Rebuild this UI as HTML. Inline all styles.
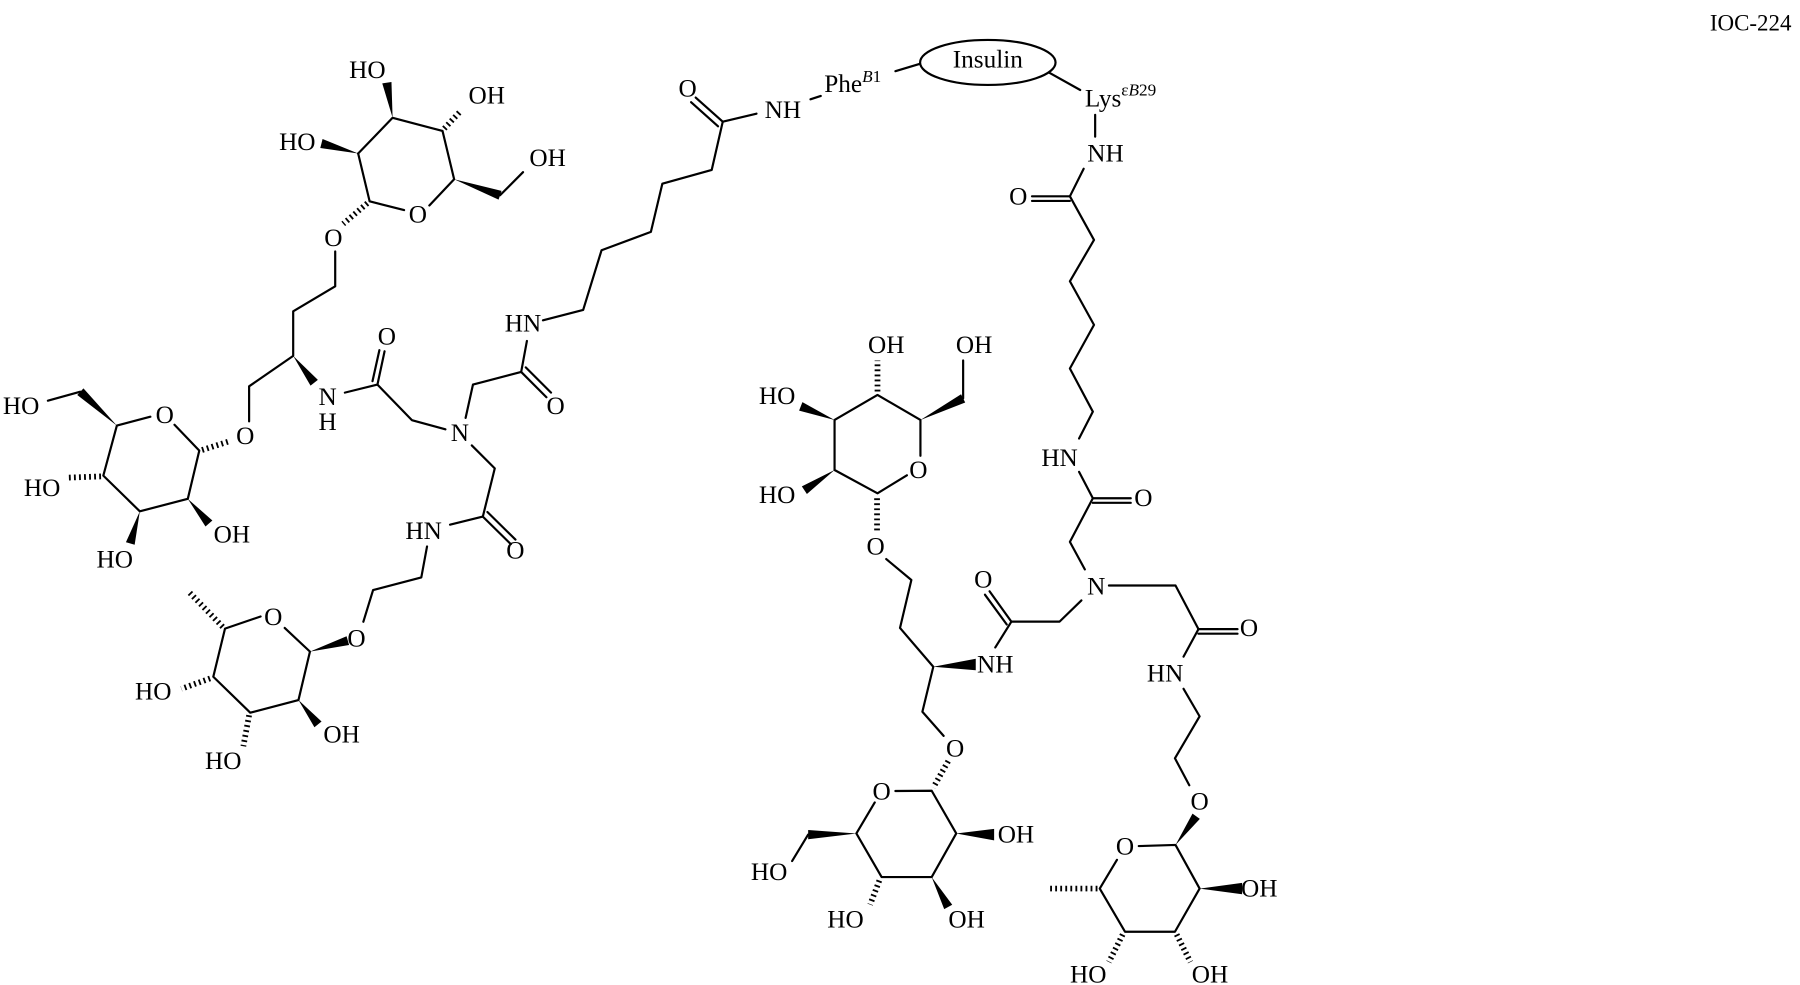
<!DOCTYPE html>
<html><head><meta charset="utf-8"><style>
html,body{margin:0;padding:0;background:#fff;}
svg{display:block;}
text{font-family:"Liberation Serif",serif;font-size:22px;fill:#000;text-anchor:middle;dominant-baseline:central;}
.l{stroke:#000;stroke-width:1.9;fill:none;stroke-linecap:round;stroke-linejoin:round;}
.h{stroke:#000;stroke-width:5;fill:none;stroke-dasharray:1.6,2.8;}
.w{fill:#000;stroke:none;}
</style></head><body>
<svg width="1800" height="985" viewBox="0 0 1568 858" preserveAspectRatio="none" xmlns="http://www.w3.org/2000/svg">
<text x="1525" y="20" style="font-size:20px">IOC-224</text>

<!-- top-left sugar -->
<polyline class="l" points="312,133.7 342,102.6 385.5,114.1 395.6,156.1 374,179"/>
<polyline class="l" points="352,183 322,175.4 312,133.7"/>
<polygon class="w" points="342,102.6 341,71.4 333,72.6"/>
<polygon class="w" points="312,133.7 281,121.1 279,128.9"/>
<polygon class="w" points="395.6,156.1 434.3,173.9 436.9,166.3"/>
<line class="l" x1="435.6" y1="170.1" x2="455.6" y2="150"/>
<line class="h" x1="387" y1="112" x2="401" y2="97"/>
<line class="h" x1="320" y1="177" x2="299" y2="195"/>
<text x="320" y="61">HO</text><text x="424" y="83">OH</text><text x="259" y="123.5">HO</text><text x="477" y="137.5">OH</text>
<text x="364" y="187">O</text><text x="290.4" y="207.4">O</text>

<!-- left chain -->
<polyline class="l" points="292,219 292,249.4 255.4,271.2 255.4,310 217,336.5 217,367"/>
<polygon class="w" points="255.4,310 270.5,335.9 276.9,330.9"/>
<text x="213.6" y="380">O</text>
<text x="285.4" y="345.8">N</text><text x="285.4" y="367.6">H</text>
<text x="337" y="293">O</text>
<line class="l" x1="300.4" y1="342" x2="328.8" y2="335"/>
<line class="l" x1="328.8" y1="335" x2="335" y2="306"/>
<line class="l" x1="324.5" y1="332" x2="330.5" y2="305"/>
<polyline class="l" points="328.8,335 358.8,366 388,374"/>
<text x="400.6" y="377">N</text>
<polyline class="l" points="405.6,364 412,335 454,324"/>
<line class="l" x1="454" y1="324" x2="476" y2="346"/>
<line class="l" x1="458" y1="320" x2="480" y2="342"/>
<text x="484" y="353.6">O</text>
<line class="l" x1="454" y1="324" x2="459" y2="297"/>
<text x="455.6" y="282">HN</text>
<polyline class="l" points="473,279 508,270 524,218 567,202 577,160 620,148 629.6,106"/>
<line class="l" x1="629.6" y1="106" x2="606" y2="85"/>
<line class="l" x1="625.5" y1="110" x2="602" y2="89"/>
<text x="599" y="77">O</text>
<line class="l" x1="629.6" y1="106" x2="659" y2="99"/>
<text x="682" y="96">NH</text>
<line class="l" x1="706" y1="86.5" x2="715" y2="83.6"/>
<text x="718" y="73" style="text-anchor:start">Phe<tspan dy="-7" style="font-size:15px"><tspan font-style="italic">B</tspan>1</tspan></text>
<line class="l" x1="780" y1="62" x2="801" y2="55.7"/>
<ellipse cx="860.5" cy="54.4" rx="59" ry="19.6" class="l"/>
<text x="860.5" y="52">Insulin</text>
<line class="l" x1="914" y1="63.3" x2="941" y2="78.4"/>
<text x="945" y="86" style="text-anchor:start">Lys<tspan dy="-8" style="font-size:15px">ε<tspan font-style="italic">B</tspan>29</tspan></text>
<line class="l" x1="954" y1="100" x2="954" y2="119"/>
<text x="963" y="133.6">NH</text>

<!-- lower left arm -->
<polyline class="l" points="411,388 431,408 420.6,450"/>
<line class="l" x1="420.6" y1="450" x2="445" y2="474"/>
<line class="l" x1="424.6" y1="446" x2="449" y2="470"/>
<text x="449" y="479.6">O</text>
<line class="l" x1="420.6" y1="450" x2="392" y2="457"/>
<text x="369" y="462.5">HN</text>
<polyline class="l" points="372,476 367,503 325,514 316.5,541.6"/>
<text x="310.6" y="556">O</text>

<!-- left sugar -->
<polyline class="l" points="152,370 173.6,392.5 163.6,434.5 121.8,445.4 90,414.3 101.8,370.7 131,363"/>
<polygon class="w" points="101.8,370.7 72.7,338.3 67.3,344.1"/>
<line class="l" x1="70" y1="341.2" x2="41.7" y2="349"/>
<line class="h" x1="88" y1="415" x2="60" y2="416"/>
<polygon class="w" points="163.6,434.5 179,458.6 185,453.4"/>
<polygon class="w" points="121.8,445.4 109.7,472.3 117.3,474.5"/>
<line class="h" x1="176" y1="392" x2="201" y2="384"/>
<text x="143.5" y="361.4">O</text>
<text x="18.4" y="353.6">HO</text><text x="36.7" y="425">HO</text><text x="202" y="465.6">OH</text><text x="100" y="487.3">HO</text>

<!-- bottom-left sugar -->
<polygon class="w" points="270,567.6 304.1,561.8 301.9,554.2"/>
<polyline class="l" points="248,547 270,567.6 260,609.8 218,620.8 185.8,589.5 196,547.6 227,537"/>
<line class="h" x1="194" y1="546" x2="164" y2="515"/>
<polygon class="w" points="260,609.8 273.9,633.5 280.1,628.5"/>
<line class="h" x1="217" y1="623" x2="212" y2="650"/>
<line class="h" x1="183" y1="591" x2="158" y2="600"/>
<text x="238" y="537.3">O</text>
<text x="133.5" y="602.5">HO</text><text x="297.6" y="640">OH</text><text x="194.5" y="663">HO</text>

<!-- right chain -->
<line class="l" x1="944" y1="147" x2="932" y2="171"/>
<line class="l" x1="932" y1="171" x2="899" y2="171"/>
<line class="l" x1="932" y1="175" x2="899" y2="175"/>
<text x="887" y="171">O</text>
<polyline class="l" points="932,171 953,209 932,245 953,283 932,321 952,358.6 940,382"/>
<text x="923" y="399">HN</text>
<polyline class="l" points="940,411 952,434 932,472 945,496"/>
<line class="l" x1="952" y1="434" x2="985" y2="434"/>
<line class="l" x1="952" y1="438" x2="985" y2="438"/>
<text x="996" y="434">O</text>
<text x="955" y="511">N</text>
<polyline class="l" points="966,510 1024,510 1044,548"/>
<line class="l" x1="1044" y1="548" x2="1078" y2="548"/>
<line class="l" x1="1044" y1="552" x2="1078" y2="552"/>
<text x="1088" y="547">O</text>
<polyline class="l" points="942,523 923,541.5 881,541.5"/>
<line class="l" x1="881" y1="541.5" x2="862" y2="515"/>
<line class="l" x1="877" y1="544" x2="858" y2="518"/>
<text x="856.5" y="505">O</text>
<line class="l" x1="881" y1="541.5" x2="867" y2="564"/>
<text x="867" y="579">NH</text>
<polygon class="w" points="813,580.8 850,573.8 850,583.8"/>
<polyline class="l" points="772,487 793.9,505.2 784,547 813,580.8 803.5,620 822,641"/>
<text x="762.8" y="476.2">O</text>
<text x="832" y="652">O</text>

<!-- upper-middle sugar -->
<line class="h" x1="764" y1="462" x2="764" y2="432"/>
<polyline class="l" points="790,414 764.4,429.7 727,409.4 727,365.8 764.4,344 801.8,365.8 801.8,397"/>
<line class="h" x1="764.4" y1="341" x2="764.4" y2="314"/>
<polygon class="w" points="801.8,365.8 840.8,350.6 837.2,343.4"/>
<line class="l" x1="839" y1="347" x2="839" y2="314"/>
<polygon class="w" points="727,365.8 699,350.3 696.1,357.7"/>
<polygon class="w" points="727,409.4 702.9,430.3 698.5,423.7"/>
<text x="800" y="409.4">O</text>
<text x="772" y="300.5">OH</text><text x="848.6" y="300.5">OH</text><text x="677" y="345">HO</text><text x="677" y="431">HO</text>

<!-- bottom-middle sugar -->
<line class="h" x1="826" y1="663" x2="813" y2="686"/>
<polyline class="l" points="780,689 811.6,688.8 833,726 811.6,764 768,764 746,726 762,699"/>
<polygon class="w" points="833,726 866,722 866,732"/>
<polygon class="w" points="811.6,764 822.5,791.9 829.5,788.1"/>
<polygon class="w" points="746,726 704,723 704,731"/>
<line class="l" x1="704" y1="727" x2="690" y2="750"/>
<line class="h" x1="766" y1="767" x2="758" y2="788"/>
<text x="768" y="689.6">O</text>
<text x="885" y="727">OH</text><text x="842" y="801">OH</text><text x="736.5" y="801">HO</text><text x="670" y="759.5">HO</text>

<!-- bottom-right arm & sugar -->
<line class="l" x1="1044" y1="548" x2="1031" y2="572"/>
<text x="1015" y="586.5">HN</text>
<polyline class="l" points="1031,600 1045,624 1023.5,660.5 1036,684"/>
<text x="1045" y="698">O</text>
<polygon class="w" points="1024,736 1045.2,713.3 1038.8,708.7"/>
<polyline class="l" points="992,737 1024,736 1045,774 1023.5,811.6 980,811.6 958,774 973,749"/>
<polygon class="w" points="1045,774 1082,769 1082,779"/>
<line class="h" x1="1025" y1="814" x2="1037" y2="838"/>
<line class="h" x1="978" y1="814" x2="966" y2="838"/>
<line class="h" x1="956" y1="774" x2="914.6" y2="774"/>
<text x="980" y="737.5">O</text>
<text x="1097" y="774">OH</text><text x="1054" y="849">OH</text><text x="948" y="849">HO</text>
</svg>
</body></html>
